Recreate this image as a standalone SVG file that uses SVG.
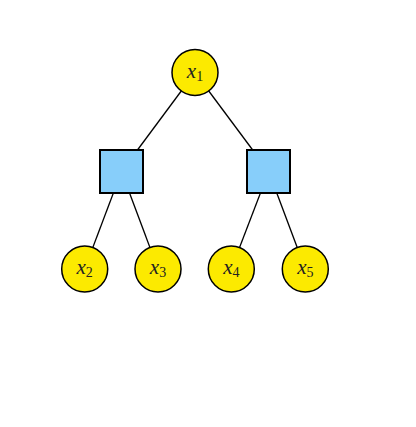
<svg xmlns="http://www.w3.org/2000/svg" width="416" height="427" viewBox="0 0 416 427">
<style>
.edge{stroke:#000;stroke-width:1.3;fill:none}
.var{fill:#FCEA00;stroke:#000;stroke-width:1.5}
.fac{fill:#87CEFA;stroke:#000;stroke-width:2}
.lbl{font-family:"Liberation Serif","DejaVu Serif",serif;font-style:italic;font-size:21px;fill:#222;text-anchor:middle}
.sub{font-style:normal;font-size:14px}
</style>
<rect width="416" height="427" fill="#fff"/>
<g id="connectors">
<line class="edge" x1="195" y1="72.5" x2="121.5" y2="171.5"/>
<line class="edge" x1="195" y1="72.5" x2="268.7" y2="171.5"/>
<line class="edge" x1="121.5" y1="171.5" x2="84.7" y2="269"/>
<line class="edge" x1="121.5" y1="171.5" x2="158" y2="269"/>
<line class="edge" x1="268.7" y1="171.5" x2="231.3" y2="269"/>
<line class="edge" x1="268.7" y1="171.5" x2="305.3" y2="269"/>
</g>
<g id="x1"><circle class="var" cx="195" cy="72.5" r="23"/><text class="lbl" x="195" y="77.5">x<tspan class="sub" dy="3">1</tspan></text></g>
<g id="f1"><rect class="fac" x="100" y="150" width="43" height="43"/></g>
<g id="f2"><rect class="fac" x="247" y="150" width="43" height="43"/></g>
<g id="x2"><circle class="var" cx="84.7" cy="269" r="23"/><text class="lbl" x="84.7" y="274">x<tspan class="sub" dy="3">2</tspan></text></g>
<g id="x3"><circle class="var" cx="158" cy="269" r="23"/><text class="lbl" x="158" y="274">x<tspan class="sub" dy="3">3</tspan></text></g>
<g id="x4"><circle class="var" cx="231.3" cy="269" r="23"/><text class="lbl" x="231.3" y="274">x<tspan class="sub" dy="3">4</tspan></text></g>
<g id="x5"><circle class="var" cx="305.3" cy="269" r="23"/><text class="lbl" x="305.3" y="274">x<tspan class="sub" dy="3">5</tspan></text></g>
</svg>
